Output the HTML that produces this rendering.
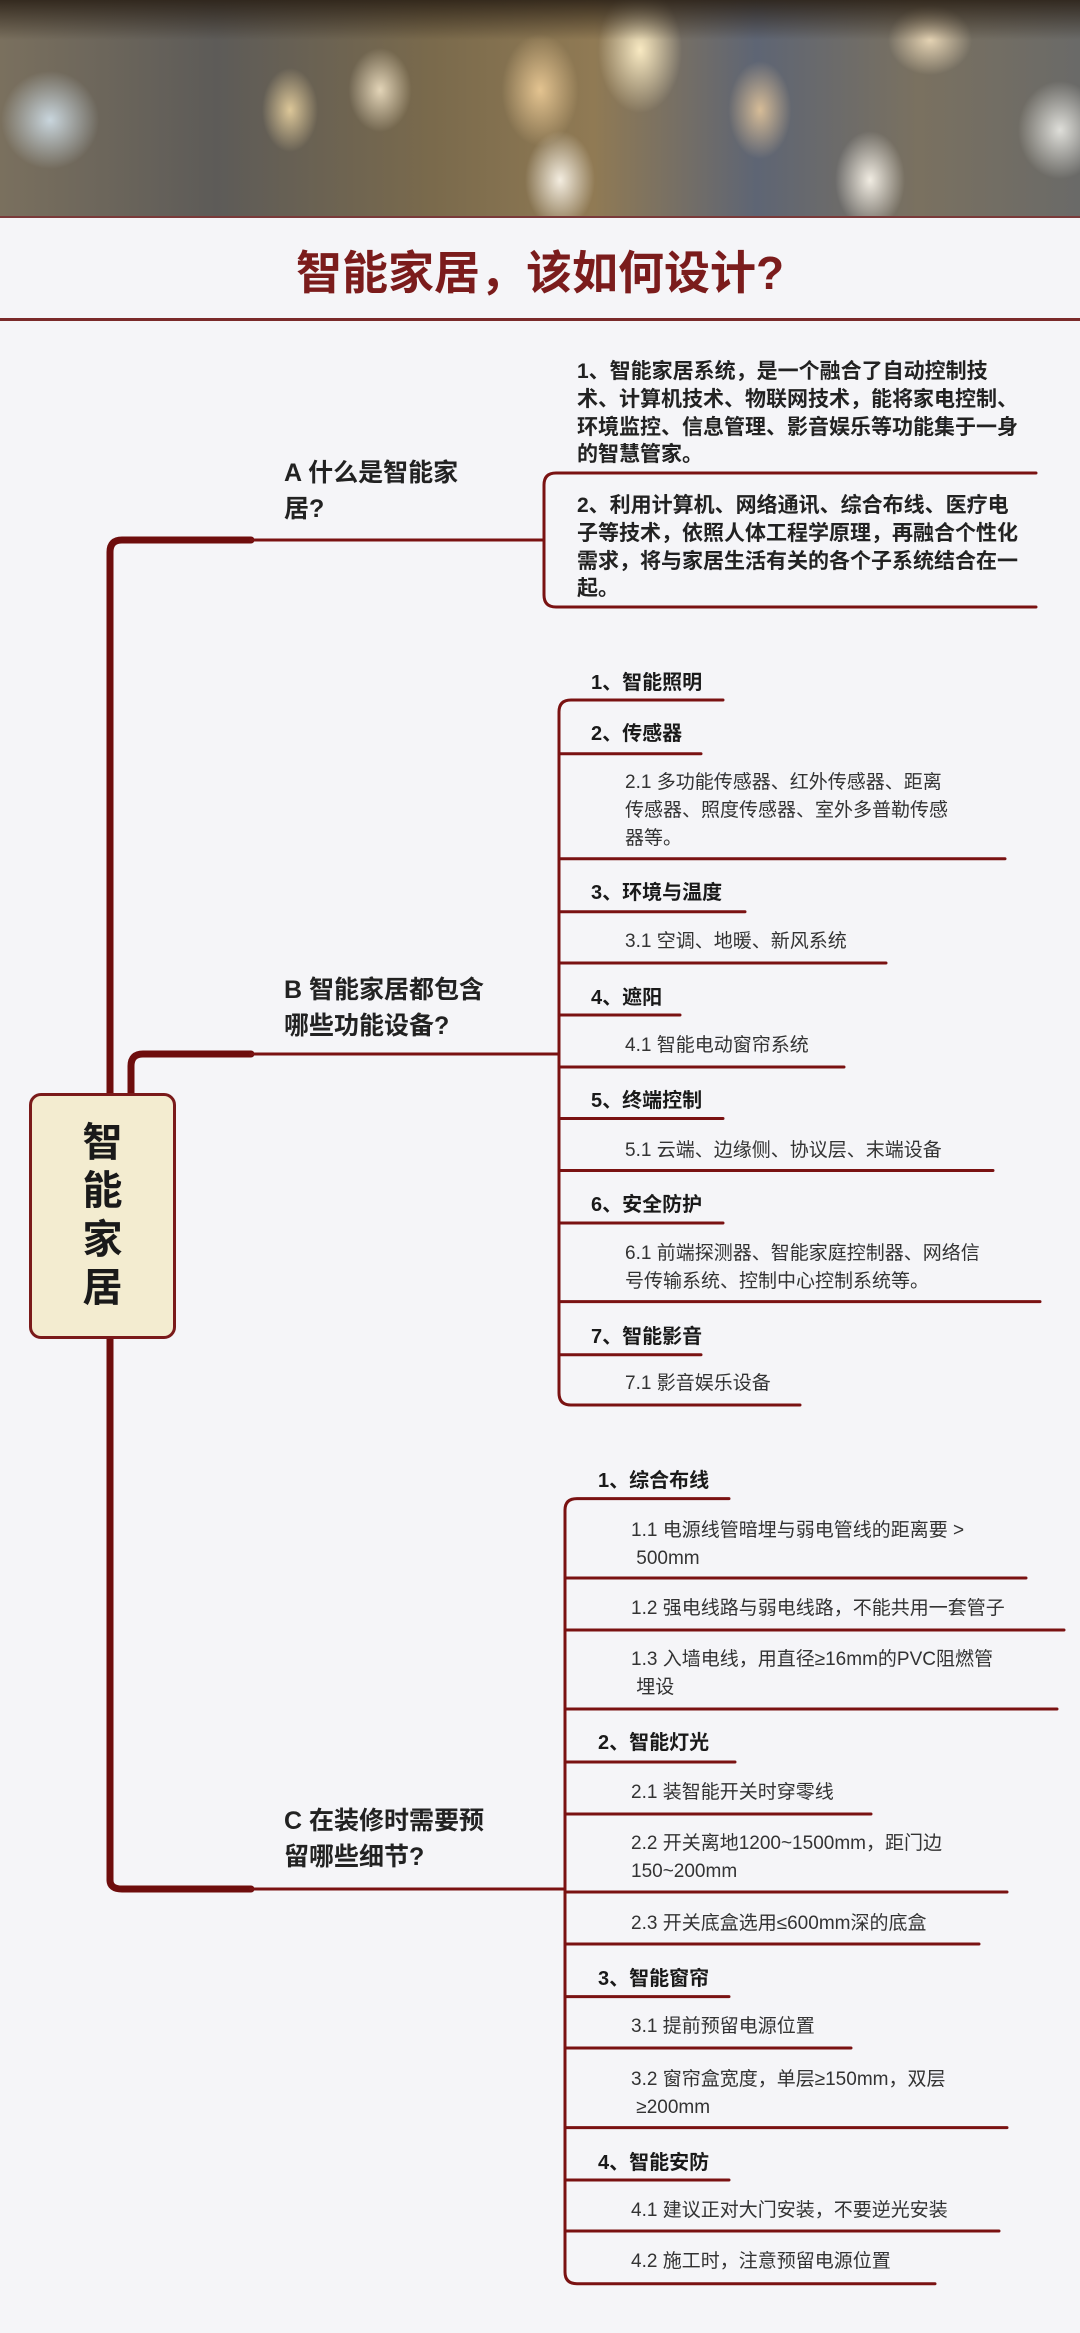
<!DOCTYPE html>
<html><head><meta charset="utf-8">
<style>
*{margin:0;padding:0;box-sizing:border-box}
body{width:1080px;height:2333px;position:relative;overflow:hidden;background:#f5f5f8;font-family:"Liberation Sans","Noto Sans CJK SC",sans-serif;color:#222}
#hdr{position:absolute;left:0;top:0;width:1080px;height:218px;overflow:hidden;
background:
radial-gradient(ellipse 60px 90px at 640px 50px,rgba(255,240,200,.95),rgba(255,230,180,0) 70%),
radial-gradient(ellipse 50px 70px at 560px 180px,rgba(255,250,240,.9),rgba(255,250,240,0) 70%),
radial-gradient(ellipse 50px 70px at 870px 180px,rgba(255,250,240,.9),rgba(255,250,240,0) 70%),
radial-gradient(ellipse 55px 80px at 540px 90px,rgba(250,215,160,.8),rgba(250,215,160,0) 70%),
radial-gradient(ellipse 45px 70px at 760px 110px,rgba(245,210,160,.8),rgba(245,210,160,0) 70%),
radial-gradient(ellipse 40px 60px at 290px 110px,rgba(250,225,170,.8),rgba(250,225,170,0) 70%),
radial-gradient(ellipse 45px 60px at 380px 90px,rgba(255,240,210,.8),rgba(255,240,210,0) 70%),
radial-gradient(ellipse 60px 50px at 930px 40px,rgba(255,235,200,.8),rgba(255,235,200,0) 70%),
radial-gradient(ellipse 70px 70px at 50px 120px,rgba(210,225,235,.9),rgba(210,225,235,0) 70%),
radial-gradient(ellipse 60px 70px at 1060px 130px,rgba(235,235,230,.9),rgba(235,235,230,0) 70%),
linear-gradient(90deg,#7a705e 0%,#5d5b58 20%,#7a6a4c 40%,#907a54 55%,#5e6574 70%,#7a7160 85%,#6a6a68 100%);}
#hdr:before{content:"";position:absolute;left:0;top:0;width:1080px;height:40px;background:linear-gradient(180deg,rgba(40,30,20,.85),rgba(40,30,20,0))}
#hdr:after{content:"";position:absolute;left:0;top:216px;width:1080px;height:2px;background:#7a3a3a}
.t{position:absolute;white-space:nowrap}
.h{font-weight:bold;font-size:20px;color:#1a1a1a}
.s{font-size:19px;color:#333;line-height:28px}
.a{font-size:21px;font-weight:bold;color:#222;line-height:27.8px}
.L{font-size:25px;line-height:36px;color:#222;font-weight:bold}
</style></head><body>
<div id="hdr"></div>
<div class="t" style="left:0;width:1080px;top:244px;text-align:center;font-size:46px;font-weight:bold;color:#7b1c1c;line-height:58px">智能家居，该如何设计?</div>
<div style="position:absolute;left:0;top:318px;width:1080px;height:3px;background:#7a2a2a"></div>

<svg width="1080" height="2333" style="position:absolute;left:0;top:0" fill="none" stroke-linecap="round">
<g stroke="#6e0d0d" stroke-width="7">
<path d="M110 1880 V552 Q110 540 122 540 H251"/>
<path d="M110 1880 Q110 1889 122 1889 H251"/>
<path d="M131 1093 V1066 Q131 1054 143 1054 H251"/>
</g>
<g stroke="#7a1212" stroke-width="3">
<path d="M251 540 H544"/>
<path d="M1036 473 H556 Q544 473 544 485 V595 Q544 607 556 607 H1036"/>
<path d="M251 1054 H559"/>
<path d="M723 700 H571 Q559 700 559 712 V1393 Q559 1405 571 1405 H800"/>
<path d="M559 753.7 H701 M559 858.8 H1005 M559 911.8 H745 M559 963 H886 M559 1015 H680 M559 1067 H844 M559 1118.5 H723 M559 1170.5 H993 M559 1223 H723 M559 1301.6 H1040 M559 1354.7 H701"/>
<path d="M251 1889 H565"/>
<path d="M729 1498.6 H577 Q565 1498.6 565 1510 V2272 Q565 2283.7 577 2283.7 H935"/>
<path d="M565 1578 H1026 M565 1630 H1064 M565 1709 H1057 M565 1762 H735 M565 1814 H871 M565 1892 H1007 M565 1944 H979 M565 1996.6 H729 M565 2048 H851 M565 2127.6 H1007 M565 2180 H729 M565 2231 H999"/>
</g>
</svg>

<div style="position:absolute;left:29px;top:1093px;width:147px;height:246px;background:#f3ecd0;border:3px solid #7a1a1a;border-radius:12px"></div>
<div class="t" style="left:29px;width:147px;top:1119px;text-align:center;font-size:40px;font-weight:bold;line-height:48.4px;color:#1a1a1a;white-space:normal">智<br>能<br>家<br>居</div>

<!-- A -->
<div class="t L" style="left:284px;top:455px">A 什么是智能家<br>居?</div>
<div class="t a" style="left:577px;top:358px">1、智能家居系统，是一个融合了自动控制技<br>术、计算机技术、物联网技术，能将家电控制、<br>环境监控、信息管理、影音娱乐等功能集于一身<br>的智慧管家。</div>
<div class="t a" style="left:577px;top:492px">2、利用计算机、网络通讯、综合布线、医疗电<br>子等技术，依照人体工程学原理，再融合个性化<br>需求，将与家居生活有关的各个子系统结合在一<br>起。</div>

<!-- B -->
<div class="t L" style="left:284px;top:972px">B 智能家居都包含<br>哪些功能设备?</div>
<div class="t h" style="left:591px;top:666px">1、智能照明</div>
<div class="t h" style="left:591px;top:717px">2、传感器</div>
<div class="t s" style="left:625px;top:769px">2.1 多功能传感器、红外传感器、距离<br>传感器、照度传感器、室外多普勒传感<br>器等。</div>
<div class="t h" style="left:591px;top:876px">3、环境与温度</div>
<div class="t s" style="left:625px;top:928px">3.1 空调、地暖、新风系统</div>
<div class="t h" style="left:591px;top:981px">4、遮阳</div>
<div class="t s" style="left:625px;top:1032px">4.1 智能电动窗帘系统</div>
<div class="t h" style="left:591px;top:1084px">5、终端控制</div>
<div class="t s" style="left:625px;top:1137px">5.1 云端、边缘侧、协议层、末端设备</div>
<div class="t h" style="left:591px;top:1188px">6、安全防护</div>
<div class="t s" style="left:625px;top:1240px">6.1 前端探测器、智能家庭控制器、网络信<br>号传输系统、控制中心控制系统等。</div>
<div class="t h" style="left:591px;top:1320px">7、智能影音</div>
<div class="t s" style="left:625px;top:1370px">7.1 影音娱乐设备</div>

<!-- C -->
<div class="t L" style="left:284px;top:1803px">C 在装修时需要预<br>留哪些细节?</div>
<div class="t h" style="left:598px;top:1464px">1、综合布线</div>
<div class="t s" style="left:631px;top:1517px">1.1 电源线管暗埋与弱电管线的距离要 &gt;<br>&nbsp;500mm</div>
<div class="t s" style="left:631px;top:1595px">1.2 强电线路与弱电线路，不能共用一套管子</div>
<div class="t s" style="left:631px;top:1646px">1.3 入墙电线，用直径≥16mm的PVC阻燃管<br>&nbsp;埋设</div>
<div class="t h" style="left:598px;top:1726px">2、智能灯光</div>
<div class="t s" style="left:631px;top:1779px">2.1 装智能开关时穿零线</div>
<div class="t s" style="left:631px;top:1830px">2.2 开关离地1200~1500mm，距门边<br>150~200mm</div>
<div class="t s" style="left:631px;top:1910px">2.3 开关底盒选用≤600mm深的底盒</div>
<div class="t h" style="left:598px;top:1962px">3、智能窗帘</div>
<div class="t s" style="left:631px;top:2013px">3.1 提前预留电源位置</div>
<div class="t s" style="left:631px;top:2066px">3.2 窗帘盒宽度，单层≥150mm，双层<br>&nbsp;≥200mm</div>
<div class="t h" style="left:598px;top:2146px">4、智能安防</div>
<div class="t s" style="left:631px;top:2197px">4.1 建议正对大门安装，不要逆光安装</div>
<div class="t s" style="left:631px;top:2248px">4.2 施工时，注意预留电源位置</div>
</body></html>
